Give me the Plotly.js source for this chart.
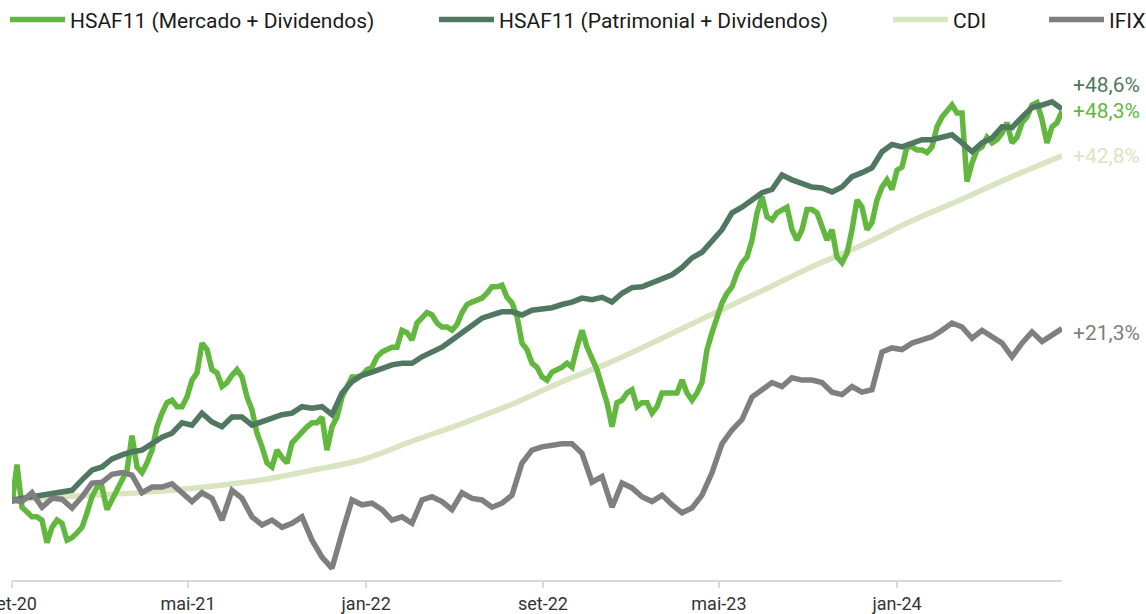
<!DOCTYPE html>
<html>
<head>
<meta charset="utf-8">
<script src="https://cdn.plot.ly/plotly-3.0.1.min.js"></script>
<style>
  html, body { margin: 0; padding: 0; background: #fff; }
  #chart { width: 1146px; height: 614px; }
</style>
</head>
<body>
<div id="chart"></div>
<script>
// Rentabilidade acumulada (%) desde set-20
// Patrimonial e IFIX: leitura a cada ~2 semanas; Mercado: a cada ~1 semana
var START = Date.UTC(2020, 8, 1);
var STEP_DAYS = 13.75;

var mercadoStep = 0.5;
var mercado = [
  -0.5, 4.4, -0.9, -1.6, -2.1, -2.1, -2.5, -5.3, -3.4, -2.5,
  -2.9, -5.0, -4.7, -4.1, -3.4, -1.6, 0.4, 1.6, 1.6, -1.2,
  0.0, 1.0, 2.2, 3.7, 8.0, 4.1, 3.4, 4.6, 6.2, 9.1,
  10.8, 12.1, 12.4, 11.6, 11.6, 12.8, 14.9, 15.8, 19.5, 18.7,
  16.2, 15.8, 14.1, 14.6, 15.5, 16.2, 15.3, 12.8, 11.2, 8.3,
  6.6, 4.6, 4.1, 6.2, 5.3, 4.6, 7.1, 7.8, 8.3, 9.1,
  9.6, 9.6, 10.3, 6.2, 9.1, 10.3, 12.8, 14.1, 15.3, 15.3,
  15.5, 16.2, 16.5, 17.8, 18.4, 18.7, 19.0, 19.0, 21.1, 20.8,
  19.9, 22.0, 22.6, 23.3, 23.0, 22.0, 21.5, 21.5, 21.1, 21.8,
  23.3, 24.3, 24.6, 24.9, 25.1, 25.7, 26.5, 26.5, 26.7, 25.2,
  24.5, 22.8, 19.5, 18.7, 17.0, 16.5, 15.3, 14.9, 15.9, 16.2,
  16.5, 17.0, 16.5, 19.0, 21.1, 19.0, 17.4, 16.2, 14.1, 12.1,
  9.1, 12.1, 12.4, 13.3, 13.7, 11.6, 12.1, 12.1, 10.8, 11.6,
  13.3, 13.3, 13.3, 13.3, 14.9, 13.3, 12.4, 13.3, 14.6, 18.7,
  20.8, 22.8, 24.5, 25.7, 26.5, 28.2, 29.5, 30.2, 32.3, 35.7,
  37.7, 35.2, 34.8, 35.7, 36.1, 36.4, 33.6, 32.3, 33.6, 36.1,
  36.1, 35.7, 34.0, 32.3, 33.6, 30.2, 29.5, 30.7, 33.6, 37.3,
  36.4, 33.6, 34.5, 37.3, 38.9, 39.8, 38.6, 41.0, 41.4, 43.9,
  43.9, 43.5, 43.5, 43.2, 43.9, 46.4, 47.6, 48.5, 49.1, 48.1,
  48.1, 39.6, 41.9, 43.5, 43.9, 45.1, 44.4, 44.8, 45.6, 46.9,
  44.4, 45.1, 46.9, 47.6, 49.1, 49.4, 47.3, 44.4, 46.4, 46.9,
  48.3
];

var patrimonial = [
  0.0, 0.2, 0.4, 0.6, 0.9, 1.1, 1.2, 2.5, 3.7, 4.1,
  5.1, 5.6, 6.0, 6.2, 7.1, 7.8, 8.3, 9.6, 9.3, 10.8,
  9.7, 9.1, 10.3, 10.3, 9.3, 9.7, 10.2, 10.6, 10.8, 11.6,
  11.4, 11.6, 10.6, 13.3, 14.7, 15.5, 15.9, 16.4, 16.8, 17.0,
  17.0, 17.8, 18.4, 19.0, 19.9, 20.8, 21.8, 22.6, 23.0, 23.4,
  23.4, 23.0, 23.6, 23.8, 23.9, 24.3, 24.6, 25.1, 24.9, 25.2,
  24.6, 25.7, 26.4, 26.5, 27.0, 27.4, 28.0, 28.9, 30.1, 30.8,
  32.3, 33.6, 35.7, 36.4, 37.3, 38.2, 38.6, 40.4, 39.8, 39.4,
  38.9, 38.8, 38.3, 38.9, 40.2, 40.7, 41.3, 43.3, 44.2, 43.9,
  44.4, 44.8, 44.8, 45.1, 45.4, 44.4, 43.3, 44.4, 45.0, 46.4,
  46.3, 47.6, 48.8, 49.1, 49.5, 48.6
];

var ifix = [
  0.0, -0.2, 0.9, -0.9, 0.2, 0.1, -1.0, 0.4, 2.1, 2.2,
  3.2, 3.4, 3.1, 0.9, 1.6, 1.6, 2.0, 1.0, -0.2, 0.9,
  0.2, -2.5, 1.2, 0.2, -2.1, -3.1, -2.5, -3.4, -2.9, -2.1,
  -5.0, -7.1, -8.5, -4.1, 0.0, -0.6, -0.4, -1.2, -2.5, -2.1,
  -2.9, 0.0, 0.4, -0.2, -1.2, 0.9, 0.2, 0.0, -0.9, -0.4,
  0.6, 4.6, 6.2, 6.6, 6.8, 7.0, 7.0, 5.8, 2.2, 2.9,
  -0.9, 2.1, 1.5, 0.4, -0.2, 0.6, -0.6, -1.6, -1.0, 0.6,
  3.4, 7.0, 8.7, 10.0, 12.8, 13.7, 14.6, 14.1, 15.2, 14.9,
  14.9, 14.6, 13.4, 13.1, 14.1, 13.4, 13.7, 18.4, 18.9, 18.7,
  19.5, 19.9, 20.3, 21.1, 22.0, 21.5, 20.1, 21.1, 20.3, 19.5,
  17.8, 19.5, 20.9, 19.7, 20.5, 21.3
];

// CDI e suave: um ponto a cada 5 leituras
var cdiStep = 5;
var cdi = [
  0.0, 0.4, 0.7, 1.1, 1.7, 2.5, 3.7, 5.0, 7.3, 9.5, 11.9,
  14.7, 17.2, 20.1, 23.1, 26.0, 29.0, 31.7, 34.7, 37.4, 40.2, 42.8
];

var tickVals = ['2020-09-01', '2021-05-01', '2022-01-01', '2022-09-01', '2023-05-01', '2024-01-01'];
var tickText = ['set-20', 'mai-21', 'jan-22', 'set-22', 'mai-23', 'jan-24'];

var names = ['HSAF11 (Mercado + Dividendos)', 'HSAF11 (Patrimonial + Dividendos)', 'CDI', 'IFIX'];
var endLabels = ['+48,3%', '+48,6%', '+42,8%', '+21,3%'];

var C_MERC = '#62b73f';
var C_PATR = '#507760';
var C_CDI = '#d9e5c0';
var C_IFIX = '#7f7f7f';

function dateAt(i) {
  var d = new Date(START + i * STEP_DAYS * 86400000);
  return d.toISOString().slice(0, 19).replace('T', ' ');
}

var xs = patrimonial.map(function (v, i) { return dateAt(i); });
var xsMerc = mercado.map(function (v, i) { return dateAt(i * mercadoStep); });
var xsCdi = cdi.map(function (v, i) { return dateAt(i * cdiStep); });

var data = [
  { x: xsCdi, y: cdi, name: names[2], type: 'scatter', mode: 'lines',
    line: { color: C_CDI, width: 5.5, shape: 'spline' }, legend: 'legend3' },
  { x: xsMerc, y: mercado, name: names[0], type: 'scatter', mode: 'lines',
    line: { color: C_MERC, width: 5.5 }, legend: 'legend' },
  { x: xs, y: patrimonial, name: names[1], type: 'scatter', mode: 'lines',
    line: { color: C_PATR, width: 5.5 }, legend: 'legend2' },
  { x: xs, y: ifix, name: names[3], type: 'scatter', mode: 'lines',
    line: { color: C_IFIX, width: 5.5 }, legend: 'legend4' }
];

var lastX = xs[xs.length - 1];
var lastVals = [mercado[mercado.length - 1], patrimonial[patrimonial.length - 1], cdi[cdi.length - 1], ifix[ifix.length - 1]];
var labelColors = [C_MERC, C_PATR, C_CDI, C_IFIX];
var labelShift = [0, 24, 0, -4];

var annotations = endLabels.map(function (t, k) {
  return {
    x: lastX, y: lastVals[k], xref: 'x', yref: 'y',
    text: t, showarrow: false, xanchor: 'left', yanchor: 'middle',
    xshift: 9, yshift: labelShift[k],
    font: { family: 'Roboto', size: 21, color: labelColors[k] }
  };
});

function legendAt(xp) {
  return {
    x: xp, y: 1.077, xanchor: 'left', yanchor: 'middle', orientation: 'h',
    itemwidth: 55, bgcolor: 'rgba(0,0,0,0)',
    font: { family: 'Roboto', size: 21, color: '#1a1a1a' }
  };
}

var layout = {
  width: 1146,
  height: 614,
  margin: { l: 12, r: 84, t: 60, b: 34, autoexpand: false },
  paper_bgcolor: '#ffffff',
  plot_bgcolor: '#ffffff',
  font: { family: 'Roboto', color: '#333333' },
  showlegend: true,
  legend: legendAt(-0.0067),
  legend2: legendAt(0.4019),
  legend3: legendAt(0.8343),
  legend4: legendAt(0.9829),
  xaxis: {
    type: 'date',
    range: [dateAt(0), lastX],
    tickvals: tickVals,
    ticktext: tickText,
    tickfont: { family: 'Roboto', size: 18, color: '#333333' },
    ticklabeloverflow: 'allow',
    ticks: 'outside', ticklen: 6, tickcolor: '#d9d9d9', tickwidth: 2,
    showline: true, linecolor: '#d9d9d9', linewidth: 2,
    showgrid: false, zeroline: false
  },
  yaxis: {
    range: [-9.95, 54.7],
    visible: false,
    showgrid: false, zeroline: false
  },
  annotations: annotations
};

Plotly.newPlot('chart', data, layout, { displayModeBar: false, responsive: false });
</script>
</body>
</html>
